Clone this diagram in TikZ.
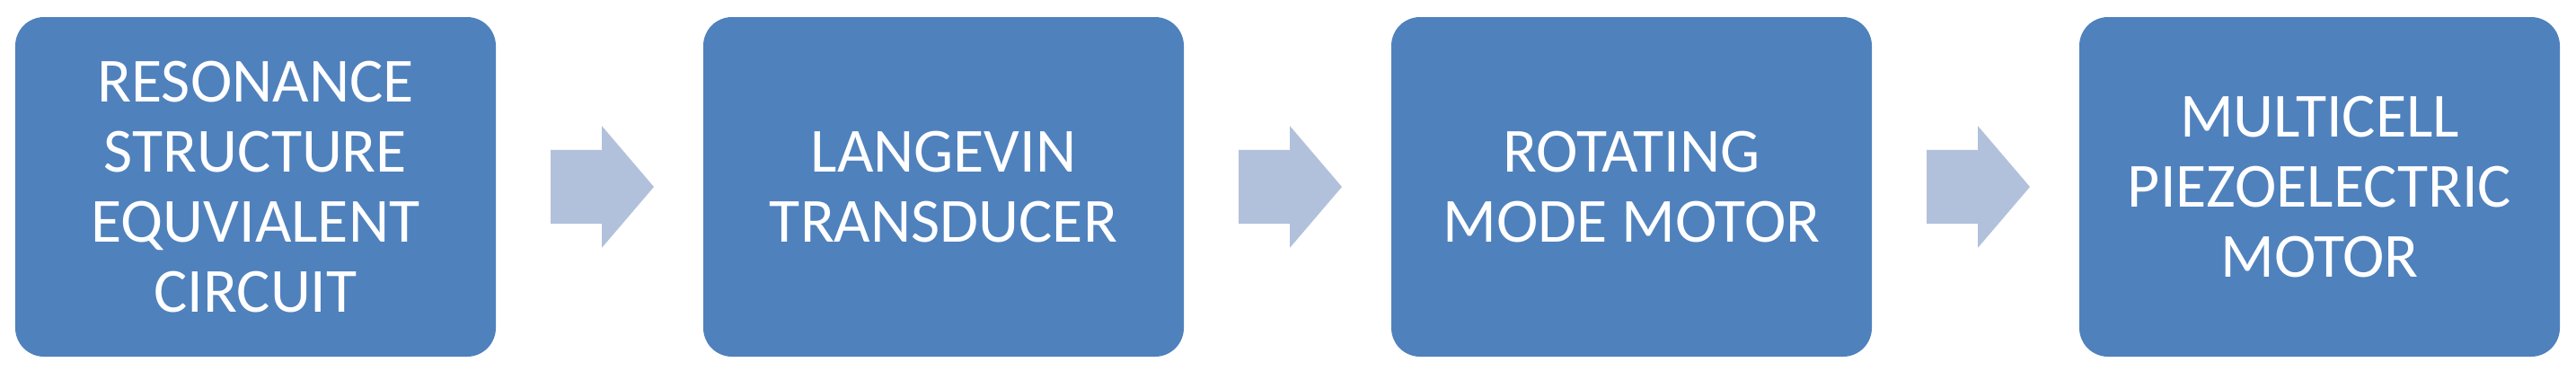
\documentclass[tikz,border=0pt]{standalone}
\usepackage{fontspec}
\setmainfont{Carlito}
\usepackage{xcolor}
\usepackage{tikz}
\usetikzlibrary{positioning,shapes.arrows}
\definecolor{stepblue}{HTML}{4F81BD}
\definecolor{flowblue}{HTML}{B2C1DB}

\begin{document}
\begin{tikzpicture}[
  block/.style={fill=stepblue, rounded corners=0.32cm, minimum width=5.35cm, minimum height=3.78cm, outer sep=0pt, inner sep=0pt, align=center, text=white, font=\fontsize{19.9pt}{22.2pt}\selectfont},
  flow/.style={single arrow, fill=flowblue, draw=none, inner sep=0pt, outer sep=0pt, text height=0.81cm, text depth=0pt, minimum height=1.15cm, single arrow head extend=0.265cm, single arrow tip angle=99}
]
  \useasboundingbox (0,0) rectangle (28.68,4.12);
  \node[block] (b1) at (2.845,2.04) {RESONANCE\\STRUCTURE\\EQUVIALENT\\CIRCUIT};
  \node[block, right=2.31cm of b1] (b2) {LANGEVIN\\TRANSDUCER};
  \node[block, right=2.31cm of b2] (b3) {ROTATING\\MODE MOTOR};
  \node[block, right=2.31cm of b3] (b4) {MULTICELL\\PIEZOELECTRIC\\MOTOR};
  % arrows between the steps
  \node[flow, right=0.61cm of b1] (a1) {};
  \node[flow, right=0.61cm of b2] (a2) {};
  \node[flow, right=0.61cm of b3] (a3) {};
\end{tikzpicture}
\end{document}
